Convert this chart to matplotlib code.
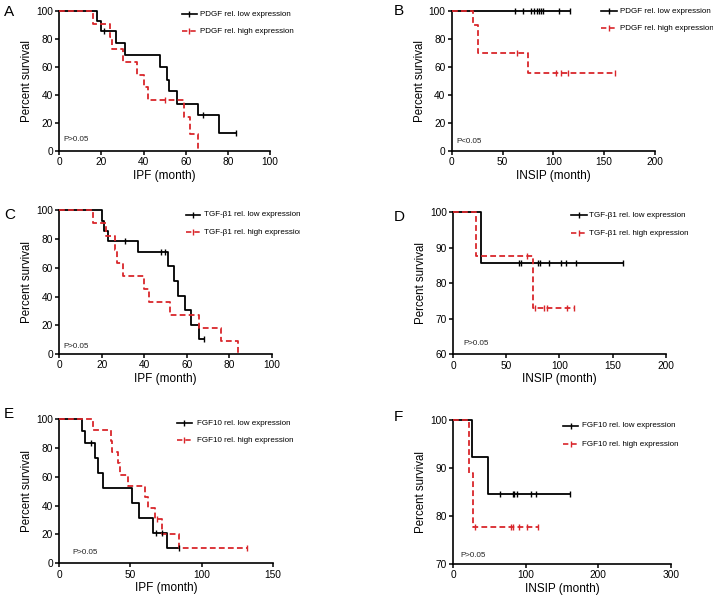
import matplotlib
matplotlib.use("Agg")
import matplotlib.pyplot as plt
from matplotlib.lines import Line2D
from matplotlib.transforms import Bbox, TransformedBbox
import numpy as np

plt.rcParams['font.family'] = ['Liberation Sans', 'DejaVu Sans']

# ---- data: event times (t), survival after each event (s), censor times (c)
A_LOW_T = [18, 20, 27, 31, 48, 51, 52, 56, 66, 76]
A_LOW_S = [93, 86, 77.5, 68.5, 60, 51, 43, 34, 26, 13]
A_LOW_C = [21, 68, 84]
A_HIGH_T = [16, 24, 25, 30, 37, 40, 42, 59, 62, 66]
A_HIGH_S = [90.9, 81.8, 72.7, 63.6, 54.5, 45.5, 36.4, 24.2, 12.1, 0]
A_HIGH_C = [50]

B_LOW_T = []
B_LOW_S = []
B_LOW_C = [62, 70, 78, 81, 84, 86, 88, 90, 106, 116]
B_HIGH_T = [21, 26, 75]
B_HIGH_S = [90, 70, 56]
B_HIGH_C = [64, 103, 108, 114, 161]

C_LOW_T = [20, 21, 23, 37, 51, 54, 56, 59, 62, 66]
C_LOW_S = [92.9, 85.7, 78.6, 70.7, 61, 50.5, 40.4, 30.3, 20.2, 10.1]
C_LOW_C = [31, 48, 50, 68]
C_HIGH_T = [16, 22, 26, 27, 30, 40, 42, 52, 66, 76, 84]
C_HIGH_S = [90.9, 81.8, 72.7, 63.6, 54.5, 45.5, 36.4, 27.3, 18.2, 9.1, 0]
C_HIGH_C = []

D_LOW_T = [26]
D_LOW_S = [85.7]
D_LOW_C = [62, 64, 80, 82, 90, 102, 106, 116, 160]
D_HIGH_T = [22, 75]
D_HIGH_S = [87.5, 73]
D_HIGH_C = [70, 77, 86, 88, 107, 114]

E_LOW_T = [16, 18, 25, 27, 31, 51, 56, 66, 76]
E_LOW_S = [91.7, 83.3, 72.9, 62.5, 52.1, 41.7, 31.2, 20.8, 10.4]
E_LOW_C = [22, 68, 72, 84]
E_HIGH_T = [24, 36, 37, 41, 43, 48, 60, 62, 67, 72, 84]
E_HIGH_S = [92.3, 84.6, 76.9, 69.2, 61.5, 53.8, 46.2, 38.5, 30.8, 20.5, 10.3]
E_HIGH_C = [69, 132]

F_LOW_T = [26, 48]
F_LOW_S = [92.3, 84.6]
F_LOW_C = [64, 82, 84, 88, 107, 114, 161]
F_HIGH_T = [21, 27]
F_HIGH_S = [88.9, 77.8]
F_HIGH_C = [30, 80, 83, 91, 102, 117]

GENES = ['PDGF', 'PDGF', u'TGF-\u03b21', u'TGF-\u03b21', 'FGF10', 'FGF10']
XLABELS = ['IPF (month)', 'INSIP (month)'] * 3
PVALS = ['P>0.05', 'P<0.05', 'P>0.05', 'P>0.05', 'P>0.05', 'P>0.05']
LETTERS = ['A', 'B', 'C', 'D', 'E', 'F']

W, H = 713, 598
RED = '#d9262b'


def px(x0, y0, x1, y1):
    # pixel box (left, top, right, bottom) -> figure fraction rect
    return [x0 / W, 1 - y1 / H, (x1 - x0) / W, (y1 - y0) / H]


def km(ax, t, s, c, color, dashed):
    t = list(t)
    s = list(s)
    end = max(t + c)
    xs = [0] + t + [end]
    ys = [100] + s + [s[-1] if s else 100]
    ls = (0, (3.2, 1.8)) if dashed else '-'
    ax.step(xs, ys, where='post', color=color, lw=1.3, linestyle=ls,
            clip_on=False, zorder=3)
    if c:
        idx = np.searchsorted(np.array(t), np.array(c), side='right')
        lv = np.array([100] + s)[idx]
        ax.plot(c, lv, linestyle='none', marker='|', ms=4, mew=1.0,
                color=color, clip_on=False, zorder=4)


fig = plt.figure(figsize=(W / 100, H / 100), dpi=100)

rects = [px(59.3, 11.3, 270, 151), px(451.7, 11.3, 655, 151),
         px(59.3, 210.3, 271.7, 354), px(453, 212, 665.7, 354.3),
         px(59.3, 419, 272.7, 563.3), px(453.3, 420, 670.7, 564)]
xlims = [(0, 100), (0, 200), (0, 100), (0, 200), (0, 150), (0, 300)]
ylims = [(0, 100), (0, 100), (0, 100), (60, 100), (0, 100), (70, 100)]
yticks = [np.arange(0, 101, 20)] * 3 + [np.arange(60, 101, 10),
                                         np.arange(0, 101, 20),
                                         np.arange(70, 101, 10)]
xticks = [np.arange(0, 101, 20), np.arange(0, 201, 50), np.arange(0, 101, 20),
          np.arange(0, 201, 50), np.arange(0, 151, 50), np.arange(0, 301, 100)]
curves = [(A_LOW_T, A_LOW_S, A_LOW_C, A_HIGH_T, A_HIGH_S, A_HIGH_C),
          (B_LOW_T, B_LOW_S, B_LOW_C, B_HIGH_T, B_HIGH_S, B_HIGH_C),
          (C_LOW_T, C_LOW_S, C_LOW_C, C_HIGH_T, C_HIGH_S, C_HIGH_C),
          (D_LOW_T, D_LOW_S, D_LOW_C, D_HIGH_T, D_HIGH_S, D_HIGH_C),
          (E_LOW_T, E_LOW_S, E_LOW_C, E_HIGH_T, E_HIGH_S, E_HIGH_C),
          (F_LOW_T, F_LOW_S, F_LOW_C, F_HIGH_T, F_HIGH_S, F_HIGH_C)]
ptext = [(0.02, 0.079), (0.025, 0.067), (0.02, 0.05), (0.048, 0.077),
         (0.063, 0.073), (0.031, 0.056)]
letter_xy = [(4, 12), (394, 11), (4, 215), (394, 217), (4, 414), (394, 417)]
# legend: line x0, x1, text x, row y1, row y2 (pixels)
leg = [(182, 197, 200, 14.3, 31.3), (600.7, 616.7, 620, 11.3, 28.3),
       (186, 200, 204, 215, 232.3), (570.7, 586.7, 589.3, 215.3, 233.3),
       (177, 191.7, 196.7, 423.3, 440), (562.7, 578.3, 581.7, 425.7, 444.3)]

left_clip = TransformedBbox(Bbox([[0, 0], [300 / W, 1]]), fig.transFigure)

for i in range(6):
    ax = fig.add_axes(rects[i])
    lt, ls_, lc, ht, hs, hc = curves[i]
    km(ax, lt, ls_, lc, 'black', False)
    km(ax, ht, hs, hc, RED, True)
    ax.set_xlim(*xlims[i])
    ax.set_ylim(*ylims[i])
    ax.set_xticks(xticks[i])
    ax.set_yticks(yticks[i])
    for sp in ['top', 'right']:
        ax.spines[sp].set_visible(False)
    for sp in ['left', 'bottom']:
        ax.spines[sp].set_linewidth(1.2)
    ax.tick_params(direction='out', length=3, width=1.1, labelsize=7.3, pad=1.5)
    ax.set_xlabel(XLABELS[i], fontsize=8.5, labelpad=2)
    ax.set_ylabel('Percent survival', fontsize=8.3, labelpad=2)
    ax.text(ptext[i][0], ptext[i][1], PVALS[i], transform=ax.transAxes,
            fontsize=5.8, va='center', ha='left', color='#222222')
    lx, ly = letter_xy[i]
    fig.text(lx / W, 1 - ly / H, LETTERS[i], fontsize=11, va='center', ha='left')

    x0, x1, tx, y1, y2 = leg[i]
    labels = [GENES[i] + ' rel. low expression', GENES[i] + ' rel. high expression']
    for yy, lab, col, dsh in [(y1, labels[0], 'black', False), (y2, labels[1], RED, True)]:
        yf = 1 - yy / H
        fig.add_artist(Line2D([x0 / W, x1 / W], [yf, yf], transform=fig.transFigure,
                              color=col, lw=1.2,
                              linestyle=(0, (3.2, 1.8)) if dsh else '-'))
        fig.add_artist(Line2D([(x0 + x1) / 2 / W], [yf], transform=fig.transFigure,
                              color=col, marker='|', ms=4, mew=1.0, linestyle='none'))
        t = fig.text(tx / W, yf, lab, fontsize=5.8, va='center', ha='left')
        if i % 2 == 0:
            t.set_clip_box(left_clip)
            t.set_clip_on(True)

fig.savefig('out.png', dpi=100)
